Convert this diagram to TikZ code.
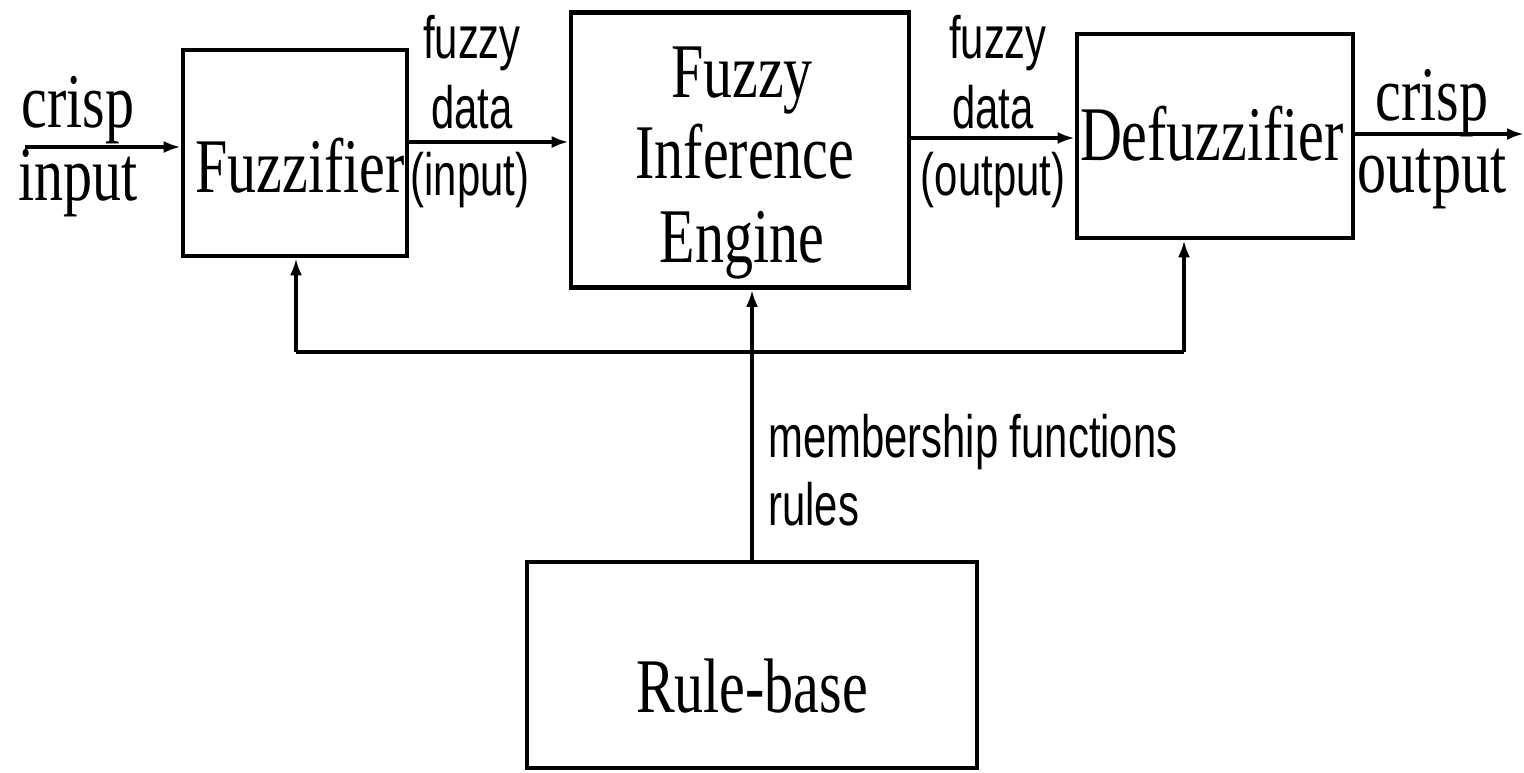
\documentclass[tikz,border=0pt]{standalone}
\usepackage{fontspec}
\setmainfont{Liberation Serif}[FakeStretch=0.75]
\setsansfont{Liberation Sans}[FakeStretch=0.7]
\usetikzlibrary{arrows.meta}
\begin{document}
\begin{tikzpicture}[x=0.02cm,y=-0.02cm,
  blk/.style={draw,line width=2.6pt,inner sep=0pt},
  conn/.style={line width=2pt,-{Latex[length=0.34cm,width=0.24cm]}},
  plain/.style={line width=2pt},
  big/.style={font=\fontsize{44}{50}\selectfont\rmfamily,inner sep=0pt,anchor=base},
  lab/.style={font=\fontsize{34}{40}\selectfont\sffamily,inner sep=0pt,anchor=base}]
\useasboundingbox (0,0) rectangle (1524,772);
% boxes
\node[blk,minimum width=224*0.02cm,minimum height=206*0.02cm] (fuzz) at (295,153) {};
\node[blk,minimum width=338*0.02cm,minimum height=275*0.02cm] (fie) at (740,150) {};
\node[blk,minimum width=276*0.02cm,minimum height=204*0.02cm] (defz) at (1215,136) {};
\node[blk,line width=2.1pt,minimum width=450*0.02cm,minimum height=206*0.02cm] (rb) at (752,665) {};
% texts in boxes
\node[big] (tfuzz) at (300,192) {Fuzzifier};
\node[big] (tfie1) at (742,97) {Fuzzy};
\node[big] (tfie2) at (745,178) {Inference};
\node[big] (tfie3) at (742,262) {Engine};
\node[big] (tdefz) at (1212,160) {Defuzzifier};
\node[big] (trb) at (752,712) {Rule-base};
% outer labels
\node[big] (cin1) at (78,127) {crisp};
\node[big] (cin2) at (78,200) {input};
\node[big] (cout1) at (1432,120) {crisp};
\node[big] (cout2) at (1432,192) {output};
\node[lab] (fd1) at (472,58) {fuzzy};
\node[lab] (fd2) at (472,128) {data};
\node[lab] (fd3) at (470,195) {(input)};
\node[lab] (fo1) at (998,58) {fuzzy};
\node[lab] (fo2) at (993,128) {data};
\node[lab] (fo3) at (993,195) {(output)};
\node[lab,anchor=base west] (mf1) at (768,457) {membership functions};
\node[lab,anchor=base west] (mf2) at (768,525) {rules};
% connectors
\coordinate (inL) at (25,147);
\coordinate (ya) at (0,142);
\coordinate (yb) at (0,138);
\coordinate (outR) at (1524,134);
\draw[conn] (inL) -- (inL -| fuzz.west);
\draw[conn] (fuzz.east |- ya) -- (fie.west |- ya);
\draw[conn] (fie.east |- yb) -- (defz.west |- yb);
\draw[conn] (defz.east |- outR) -- (outR);
\coordinate (cl) at (296,352);
\coordinate (cr) at (1184,352);
\draw[plain] (cl) -- (cr);
\draw[conn] (cl) -- (cl |- fuzz.south);
\draw[conn] (cr) -- (cr |- defz.south);
\draw[conn] (rb.north) -- (rb.north |- fie.south);
\end{tikzpicture}
\end{document}
